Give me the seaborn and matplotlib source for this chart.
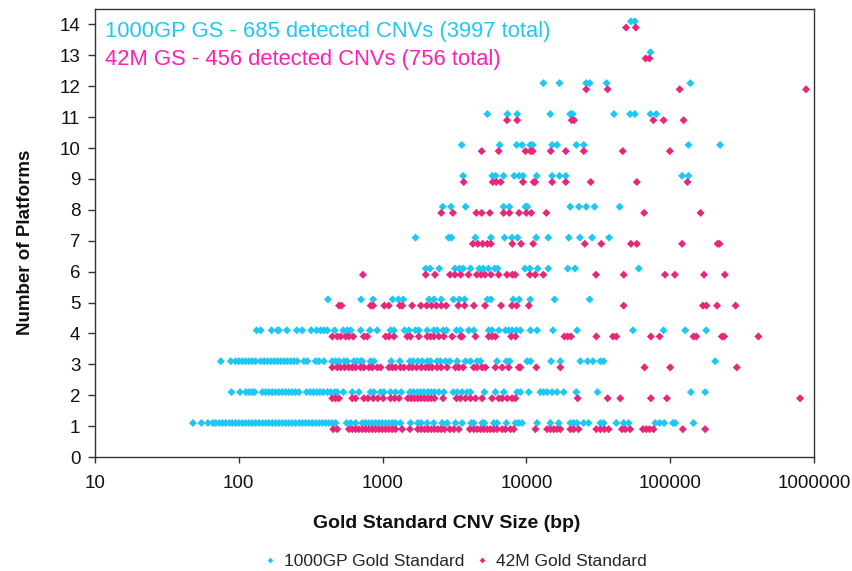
import numpy as np
import pandas as pd
import matplotlib
matplotlib.use("Agg")
import matplotlib.pyplot as plt
import seaborn as sns

# ---------------- data (CNV size in bp, per number of platforms) ----------------
# 1000GP Gold Standard
GP_1 = [48, 55, 61, 66, 69, 73, 77, 81, 86, 90, 95, 100, 106, 112, 118, 124, 131, 138, 146,
        154, 162, 171, 180, 190, 201, 212, 223, 235, 248, 262, 276, 291, 307, 324, 342, 361,
        380, 401, 423, 446, 471, 562, 600, 649, 722, 762, 804, 848, 894, 942, 993, 1050, 1107,
        1167, 1230, 1333, 1563, 1758, 1854, 2042, 2270, 2594, 2812, 3214, 3573, 4130, 4306,
        4920, 5105, 5930, 6252, 7260, 8390, 8850, 9330, 11860, 14680, 16780, 20220, 21330,
        22500, 25000, 27100, 32700, 34450, 42170, 47430, 51400, 78700, 84400, 90800, 104400,
        108400, 145200]
GP_2 = [89, 102, 112, 118, 124, 129, 146, 154, 162, 171, 180, 190, 201, 212, 223, 235, 248,
        262, 296, 313, 330, 348, 367, 387, 413, 435, 464, 484, 533, 615, 684, 825, 870, 968,
        1021, 1136, 1230, 1346, 1549, 1633, 1740, 1835, 1936, 2063, 2176, 2296, 2460, 2667,
        3097, 3300, 3573, 3873, 4085, 5105, 6090, 6970, 8610, 9080, 10380, 12500, 13180,
        13930, 15070, 16340, 18160, 22240, 31260, 139300, 175000]
GP_3 = [75, 88, 95, 100, 106, 112, 118, 124, 131, 142, 150, 158, 167, 176, 186, 196, 207, 218,
        230, 242, 255, 284, 300, 342, 361, 391, 446, 471, 497, 538, 568, 632, 666, 703, 722,
        825, 870, 1148, 1319, 1549, 1633, 1758, 1884, 2042, 2153, 2394, 2525, 2737, 2932,
        3300, 3767, 4085, 4540, 4790, 6252, 7260, 7650, 10110, 10670, 14840, 17220, 23710,
        26650, 29040, 32700, 34450, 205600]
GP_4 = [133, 142, 169, 186, 190, 216, 253, 276, 319, 348, 371, 391, 413, 464, 533, 568, 600,
        703, 816, 918, 1136, 1199, 1422, 1524, 1694, 1786, 2042, 2270, 2394, 2635, 2780,
        3266, 3478, 3972, 4306, 5470, 5770, 6427, 7150, 7530, 7950, 8530, 9080, 10670, 11860,
        15310, 22500, 55080, 89900, 127100, 177800]
GP_5 = [417, 708, 859, 1175, 1288, 1393, 2104, 2275, 2558, 3110, 3414, 3717, 5358, 5662,
        8105, 8892, 10640, 15710, 27540]
GP_6 = [1995, 2138, 2478, 3183, 3414, 3630, 4083, 4697, 5000, 5445, 6026, 6310, 9772, 10570,
        11970, 14190, 19400, 21800, 60400]
GP_7 = [1694, 2877, 3013, 4416, 5662, 7047, 7925, 8690, 11690, 14190, 19690, 23550, 28640,
        37580]
GP_8 = [2618, 2989, 3777, 6938, 7621, 9848, 10160, 20180, 23190, 26060, 29780, 44570]
GP_9 = [3630, 5795, 6124, 6938, 8230, 8892, 9466, 11780, 15100, 16980, 18790, 121000, 134000]
GP_10 = [3548, 6520, 8555, 9330, 10640, 11070, 15100, 16330, 22280, 25060, 134000, 222300]
GP_11 = [5358, 7380, 8630, 14660, 20180, 20940, 40640, 52590, 56760, 72940, 80000]
GP_12 = [13120, 16980, 26060, 27540, 36140, 138000]
GP_13 = [72940]
GP_14 = [53330, 56760]

# 42M Gold Standard
M42_1 = [454, 484, 583, 615, 649, 684, 722, 762, 804, 848, 894, 942, 993, 1050, 1107, 1167,
         1230, 1368, 1549, 1758, 1854, 1956, 2063, 2176, 2296, 2421, 2554, 2694, 2932, 3126,
         3388, 4040, 4306, 4540, 4790, 5050, 5330, 5620, 5930, 6252, 6780, 7150, 7740, 8170,
         11560, 13930, 14680, 15490, 16340, 17220, 20220, 21330, 23070, 30620, 32700, 34830,
         37310, 46150, 48700, 52700, 64600, 68100, 71800, 76500, 122400, 175000]
M42_2 = [447, 471, 497, 615, 649, 741, 791, 861, 927, 1009, 1136, 1211, 1298, 1499, 1581,
         1668, 1758, 1854, 1956, 2063, 2176, 2296, 2635, 3266, 3478, 3767, 4085, 4426, 4920,
         5770, 6427, 6780, 7360, 7950, 8390, 22720, 36720, 44980, 73400, 94800, 800000]
M42_3 = [447, 484, 511, 545, 583, 615, 649, 703, 741, 804, 848, 918, 968, 1107, 1167, 1230,
         1333, 1406, 1524, 1607, 1721, 1854, 1985, 2096, 2210, 2394, 2554, 2812, 3214, 3388,
         3630, 4306, 4540, 4920, 5190, 6090, 6780, 7530, 8850, 9080, 11720, 17220, 66300,
         100000, 290400]
M42_4 = [447, 484, 511, 553, 583, 625, 741, 782, 1050, 1107, 1199, 1484, 1563, 1786, 2042,
         2153, 2270, 2460, 2667, 3048, 3478, 3573, 4426, 5470, 5770, 6090, 7830, 8390, 18370,
         19370, 20420, 30620, 40010, 42170, 73400, 84400, 145200, 151600, 228500, 237100,
         410300]
M42_5 = [498, 518, 826, 859, 1028, 1104, 1319, 1371, 1603, 1844, 2026, 2188, 2366, 2558, 2767,
         3357, 3717, 4315, 5155, 6668, 7925, 8555, 10400, 47500, 169000, 178600, 211800,
         285000]
M42_6 = [730, 1995, 2312, 2944, 3183, 3493, 3954, 4519, 4842, 5155, 5662, 6412, 7328, 7980,
         8356, 10570, 11510, 13120, 30480, 47500, 92000, 107700, 171800, 239900]
M42_7 = [4246, 4592, 4966, 5358, 5662, 7980, 9183, 11150, 25460, 33190, 53330, 58610, 121000,
         213600, 220300]
M42_8 = [2558, 3083, 4487, 4886, 5571, 6938, 7621, 8892, 10000, 10810, 13770, 65870, 162600]
M42_9 = [3664, 5840, 6170, 6620, 9466, 11240, 11510, 15100, 18790, 27980, 58610, 131900]
M42_10 = [4886, 6412, 9848, 10640, 11070, 14760, 18790, 25060, 46770, 99500]
M42_11 = [7328, 8630, 20650, 21440, 76400, 89950, 123900]
M42_12 = [26060, 36720, 116400, 881000]
M42_13 = [67450, 71800]
M42_14 = [49300, 57680]

SERIES = ["1000GP Gold Standard", "42M Gold Standard"]
NOTE_GP = "1000GP GS - 685 detected CNVs (3997 total)"
NOTE_42M = "42M GS - 456 detected CNVs (756 total)"
X_LABEL = "Gold Standard CNV Size (bp)"
Y_LABEL = "Number of Platforms"
X_TICKS = [10, 100, 1000, 10000, 100000, 1000000]
X_TICK_LABELS = ["10", "100", "1000", "10000", "100000", "1000000"]
Y_TICKS = list(range(0, 15))

# ---------------- build table ----------------
gp_rows = [GP_1, GP_2, GP_3, GP_4, GP_5, GP_6, GP_7, GP_8, GP_9, GP_10, GP_11, GP_12, GP_13, GP_14]
m_rows = [M42_1, M42_2, M42_3, M42_4, M42_5, M42_6, M42_7, M42_8, M42_9, M42_10, M42_11, M42_12, M42_13, M42_14]
recs = []
for n, vals in enumerate(gp_rows, start=1):
    recs += [(v, n, SERIES[0]) for v in vals]
for n, vals in enumerate(m_rows, start=1):
    recs += [(v, n, SERIES[1]) for v in vals]
df = pd.DataFrame(recs, columns=["size", "platforms", "series"])
# small vertical dodge so the two series sit just above / below each integer
dodge = {SERIES[0]: 0.1, SERIES[1]: -0.1}
df["y"] = df["platforms"] + df["series"].map(dodge)

# ---------------- plot ----------------
sns.set_theme(style="ticks")
plt.rcParams["font.family"] = ["Liberation Sans", "DejaVu Sans"]

CYAN = "#1EC8F4"
PINK = "#E8267A"
TXT_PINK = "#FF1FB4"

fig = plt.figure(figsize=(8.52, 5.71), dpi=100)
ax = fig.add_axes([95 / 852, 1 - 457 / 571, 719 / 852, 448 / 571])

sns.scatterplot(data=df, x="size", y="y", hue="series", hue_order=SERIES,
                palette=[CYAN, PINK], marker="D", s=17, linewidth=0, ax=ax)

ax.set_xscale("log")
ax.set_xlim(10, 1000000)
ax.set_ylim(0, 14.5)
ax.set_xticks(X_TICKS)
ax.set_xticklabels(X_TICK_LABELS)
ax.xaxis.set_minor_locator(matplotlib.ticker.NullLocator())
ax.set_yticks(Y_TICKS)
ax.tick_params(axis="both", which="major", direction="out", width=1,
               color="#333333", labelsize=13.5, labelcolor="#111111")
ax.tick_params(axis="y", length=5, pad=5.5)
ax.tick_params(axis="x", length=4, pad=9)
for sp in ax.spines.values():
    sp.set_visible(True)
    sp.set_color("#333333")
    sp.set_linewidth(1)

ax.set_xlabel(X_LABEL, fontsize=14, fontweight="bold", color="#111111")
ax.set_ylabel(Y_LABEL, fontsize=13.5, fontweight="bold", color="#111111")
ax.xaxis.set_label_coords((447 - 95) / 719, -(515 - 457) / 448)
ax.yaxis.set_label_coords(-(95 - 34) / 719, (457 - 242) / 448)

ax.text(10 / 719, 1 - 23 / 448, NOTE_GP, transform=ax.transAxes, color=CYAN, fontsize=15.8,
        va="center", ha="left")
ax.text(10 / 719, 1 - 51 / 448, NOTE_42M, transform=ax.transAxes, color=TXT_PINK, fontsize=15.8,
        va="center", ha="left")

leg = ax.legend(loc="center", bbox_to_anchor=(455 / 852, 10 / 571),
                bbox_transform=fig.transFigure, ncol=2, frameon=False, title=None,
                fontsize=12.5, handlelength=0.8, handletextpad=0.4, columnspacing=0.6,
                markerscale=0.7)

fig.savefig("out.png", dpi=100)
